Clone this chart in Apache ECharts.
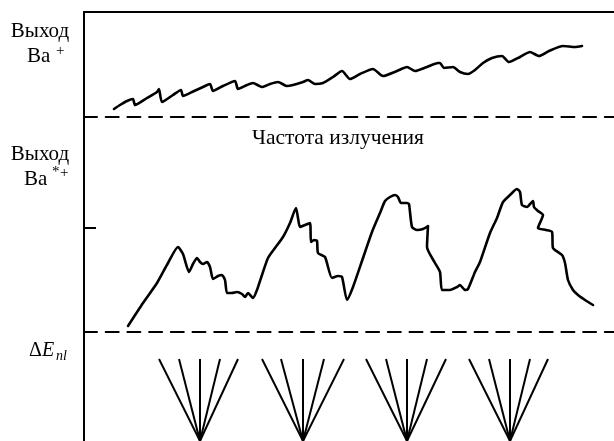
<!DOCTYPE html>
<html>
<head>
<meta charset="utf-8">
<script src="https://cdn.jsdelivr.net/npm/echarts@6/dist/echarts.min.js"></script>
<style>
  html, body { margin: 0; padding: 0; background: #fff; }
  #chart { width: 614px; height: 441px; }
</style>
</head>
<body>
<div id="chart"></div>
<script>
// частота излучения (усл. ед.) и выход Ba+ (усл. ед.)
const topCurveX = [30, 36, 43, 49, 51, 63, 73, 75, 78, 89, 97, 99, 108, 119, 126, 129, 139, 151, 154, 163, 169, 178, 186, 194, 203, 209, 219, 224, 231, 239, 249, 258, 266, 276, 289, 299, 313, 323, 331, 343, 354, 356, 360, 369, 376, 384, 391, 399, 408, 418, 425, 436, 446, 455, 465, 479, 491, 498]
const topCurveY = [8, 12, 16, 18, 12, 19, 25, 28, 15, 22, 27, 21, 25, 30, 33, 26, 31, 36, 28, 32, 34, 30, 33, 35, 31, 32, 35, 37, 33, 34, 40, 46, 38, 43, 48, 41, 46, 50, 46, 50, 54, 54, 49, 50, 45, 43, 47, 54, 59, 61, 55, 60, 65, 61, 66, 71, 70, 71]

// выход Ba*+ (усл. ед.)
const excitedCurveX = [44, 59, 73, 84, 94, 99, 105, 109, 113, 116, 119, 123, 126, 129, 134, 138, 141, 143, 148, 153, 158, 161, 164, 169, 173, 178, 184, 191, 199, 206, 212, 214, 216, 221, 226, 227, 230, 233, 234, 241, 248, 254, 258, 263, 269, 279, 288, 296, 301, 306, 311, 314, 317, 323, 325, 328, 333, 339, 344, 343, 351, 356, 358, 366, 373, 376, 381, 384, 391, 396, 406, 413, 419, 426, 433, 436, 438, 443, 449, 450, 454, 459, 454, 462, 468, 469, 478, 481, 484, 489, 494, 501, 509]
const excitedCurveY = [6, 29, 49, 69, 85, 78, 60, 68, 74, 70, 68, 70, 65, 53, 56, 57, 52, 39, 39, 40, 38, 35, 39, 34, 42, 57, 74, 84, 95, 109, 124, 114, 105, 107, 109, 90, 92, 91, 79, 75, 54, 56, 55, 32, 45, 74, 100, 119, 131, 135, 137, 135, 129, 129, 128, 105, 102, 103, 106, 85, 69, 60, 42, 42, 45, 47, 42, 43, 60, 70, 99, 114, 130, 137, 143, 140, 127, 125, 131, 125, 121, 117, 104, 102, 100, 84, 77, 69, 52, 42, 37, 32, 27]

// ΔE_nl: веера уровней
const fanApexX = [116, 219, 323, 426]
const fanTopX = [
  [75, 95, 116, 136, 154],
  [178, 197, 219, 240, 260],
  [282, 302, 323, 343, 362],
  [385, 405, 426, 446, 464]
]
const fanApexY = 0
const fanTopY = 82

const tickValue = 104

const serif = '"Liberation Serif", "DejaVu Serif", serif'

const chart = echarts.init(document.getElementById('chart'), null, { renderer: 'canvas' })

const fanLines = []
fanApexX.forEach((ax, i) => {
  fanTopX[i].forEach(tx => {
    fanLines.push({ coords: [[ax, fanApexY], [tx, fanTopY]] })
  })
})

const dashed = { color: '#000', width: 2, type: [13, 8.7] }
const solid = { color: '#000', width: 2 }

const option = {
  animation: false,
  backgroundColor: '#fff',
  grid: [
    { left: 84, top: 12, width: 530, height: 105 },
    { left: 84, top: 117, width: 530, height: 215 },
    { left: 84, top: 332, width: 530, height: 109 }
  ],
  xAxis: [
    {
      gridIndex: 0, type: 'value', min: 0, max: 530, position: 'bottom',
      name: 'Частота излучения', nameLocation: 'middle', nameGap: 10,
      nameTextStyle: { fontFamily: serif, fontSize: 21.5, color: '#000', padding: [0, 22, 0, 0] },
      axisLine: { lineStyle: dashed }, axisTick: { show: false }, axisLabel: { show: false }, splitLine: { show: false }
    },
    {
      gridIndex: 0, type: 'value', min: 0, max: 530, position: 'top',
      axisLine: { lineStyle: solid }, axisTick: { show: false }, axisLabel: { show: false }, splitLine: { show: false }
    },
    {
      gridIndex: 1, type: 'value', min: 0, max: 530, position: 'bottom',
      axisLine: { lineStyle: dashed }, axisTick: { show: false }, axisLabel: { show: false }, splitLine: { show: false }
    },
    {
      gridIndex: 2, type: 'value', min: 0, max: 530, show: false
    }
  ],
  yAxis: [
    {
      gridIndex: 0, type: 'value', min: 0, max: 105,
      axisLine: { lineStyle: solid }, axisTick: { show: false }, axisLabel: { show: false }, splitLine: { show: false }
    },
    {
      gridIndex: 1, type: 'value', min: 0, max: 215,
      axisLine: { lineStyle: solid },
      axisTick: { show: true, inside: true, length: 12, customValues: [tickValue], lineStyle: { color: '#000', width: 2 } },
      axisLabel: { show: false }, splitLine: { show: false }
    },
    {
      gridIndex: 2, type: 'value', min: 0, max: 109,
      axisLine: { lineStyle: solid }, axisTick: { show: false }, axisLabel: { show: false }, splitLine: { show: false }
    }
  ],
  series: [
    {
      type: 'line', xAxisIndex: 0, yAxisIndex: 0,
      data: topCurveX.map((x, i) => [x, topCurveY[i]]),
      showSymbol: false, smooth: 0.2,
      lineStyle: { color: '#000', width: 2.6, join: 'round', cap: 'round' }
    },
    {
      type: 'line', xAxisIndex: 2, yAxisIndex: 1,
      data: excitedCurveX.map((x, i) => [x, excitedCurveY[i]]),
      showSymbol: false, smooth: 0.2,
      lineStyle: { color: '#000', width: 2.6, join: 'round', cap: 'round' }
    },
    {
      type: 'lines', coordinateSystem: 'cartesian2d', xAxisIndex: 3, yAxisIndex: 2,
      data: fanLines,
      lineStyle: { color: '#000', width: 2, opacity: 1 }
    }
  ],
  graphic: [
    { type: 'text', x: 40, y: 31, style: { text: 'Выход', font: '21px ' + serif, fill: '#000', textAlign: 'center', textVerticalAlign: 'middle' } },
    { type: 'text', x: 27, y: 56, style: { text: 'Ba', font: '21px ' + serif, fill: '#000', textAlign: 'left', textVerticalAlign: 'middle' } },
    { type: 'text', x: 56, y: 51, style: { text: '+', font: '15px ' + serif, fill: '#000', textAlign: 'left', textVerticalAlign: 'middle' } },

    { type: 'text', x: 40, y: 154, style: { text: 'Выход', font: '21px ' + serif, fill: '#000', textAlign: 'center', textVerticalAlign: 'middle' } },
    { type: 'text', x: 24, y: 179, style: { text: 'Ba', font: '21px ' + serif, fill: '#000', textAlign: 'left', textVerticalAlign: 'middle' } },
    { type: 'text', x: 52, y: 172, style: { text: '*', font: '15px ' + serif, fill: '#000', textAlign: 'left', textVerticalAlign: 'middle' } },
    { type: 'text', x: 60, y: 173, style: { text: '+', font: '15px ' + serif, fill: '#000', textAlign: 'left', textVerticalAlign: 'middle' } },

    { type: 'text', x: 29, y: 351, style: { text: 'Δ', font: '20px ' + serif, fill: '#000', textAlign: 'left', textVerticalAlign: 'middle' } },
    { type: 'text', x: 42, y: 351, style: { text: 'E', font: 'italic 20px ' + serif, fill: '#000', textAlign: 'left', textVerticalAlign: 'middle' } },
    { type: 'text', x: 56, y: 356, style: { text: 'nl', font: 'italic 14px ' + serif, fill: '#000', textAlign: 'left', textVerticalAlign: 'middle' } }
  ]
}

chart.setOption(option)
</script>
</body>
</html>
